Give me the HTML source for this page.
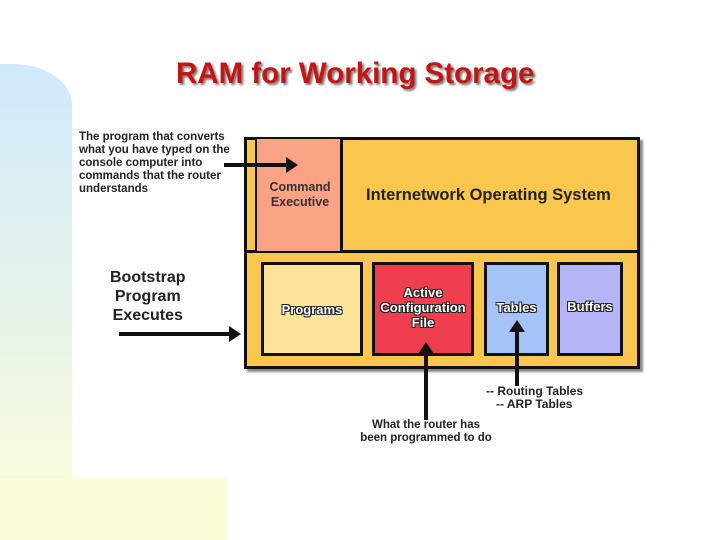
<!DOCTYPE html><html><head><style>
body{margin:0;width:720px;height:540px;background:#fff;position:relative;overflow:hidden;font-family:"Liberation Sans",sans-serif}
.a{position:absolute}
.b{position:absolute;border:3px solid #111;box-sizing:border-box;display:flex;align-items:center;justify-content:center;text-align:center;font-weight:bold;color:#fff;font-size:13px;text-shadow:1px 1px 0 #222,-1px -1px 0 #222,1px -1px 0 #222,-1px 1px 0 #222}
</style></head><body>
<div class="a" style="left:0;top:64px;width:72px;height:476px;border-radius:0 60px 0 0/0 40px 0 0;background:linear-gradient(#cfe9fb,#f4f9e0 80%,#fbfbd8)"></div>
<div class="a" style="left:0;top:478px;width:228px;height:62px;background:#fcfcd8"></div>
<div class="a" style="left:176px;top:57px;font-size:29.5px;font-weight:bold;color:#c41414;text-shadow:2px 2px 2px #777">RAM for Working Storage</div>
<div class="a" style="left:244px;top:137px;width:396px;height:232px;background:#f9c74e;border:3px solid #111;box-sizing:border-box;box-shadow:3px 3px 2px #888"></div>
<div class="a" style="left:244px;top:250px;width:396px;height:3px;background:#111"></div>
<div class="a" style="left:255px;top:139px;width:88px;height:112px;background:#f9a384;border-left:2px solid #111;border-right:3px solid #111;box-sizing:border-box"></div>
<div class="a" style="left:256px;top:180px;width:88px;text-align:center;font-size:12.5px;font-weight:bold;color:#333;line-height:15px">Command<br>Executive</div>
<div class="a" style="left:366px;top:186px;font-size:16.5px;font-weight:bold;color:#222">Internetwork Operating System</div>
<div class="b" style="left:261px;top:262px;width:102px;height:94px;background:#fce39a">Programs</div>
<div class="b" style="left:372px;top:262px;width:102px;height:94px;background:#ef3f4e;align-items:flex-start;padding-top:20px;line-height:15px">Active<br>Configuration<br>File</div>
<div class="b" style="left:484px;top:262px;width:65px;height:94px;background:#a5c3f7;align-items:flex-start;padding-top:35px">Tables</div>
<div class="b" style="left:557px;top:262px;width:66px;height:94px;background:#b4b4f7;align-items:flex-start;padding-top:34px">Buffers</div>
<div class="a" style="left:79px;top:131px;font-size:11.5px;font-weight:bold;color:#222;line-height:13px">The program that converts<br>what you have typed on the<br>console computer into<br>commands that the router<br>understands</div>
<div class="a" style="left:110px;top:268px;font-size:16px;font-weight:bold;color:#222;line-height:19px;text-align:center">Bootstrap<br>Program<br>Executes</div>
<div class="a" style="left:486px;top:385px;font-size:12px;font-weight:bold;color:#222;line-height:13px">-- Routing Tables<br>&nbsp;&nbsp;&nbsp;-- ARP Tables</div>
<div class="a" style="left:350px;top:419px;width:152px;text-align:center;font-size:11.5px;font-weight:bold;color:#222;line-height:13px">What the router has<br>been programmed to do</div>
<svg class="a" style="left:0;top:0" width="720" height="540">
<g fill="#111">
<rect x="224" y="163" width="64" height="4"/><polygon points="286,157 298,165 286,173"/>
<rect x="119" y="332" width="112" height="4"/><polygon points="229,326 241,334 229,342"/>
<rect x="424" y="352" width="4" height="68"/><polygon points="418,354 426,342 434,354"/>
<rect x="515" y="330" width="4" height="56"/><polygon points="509,332 517,320 525,332"/>
</g></svg>
</body></html>
